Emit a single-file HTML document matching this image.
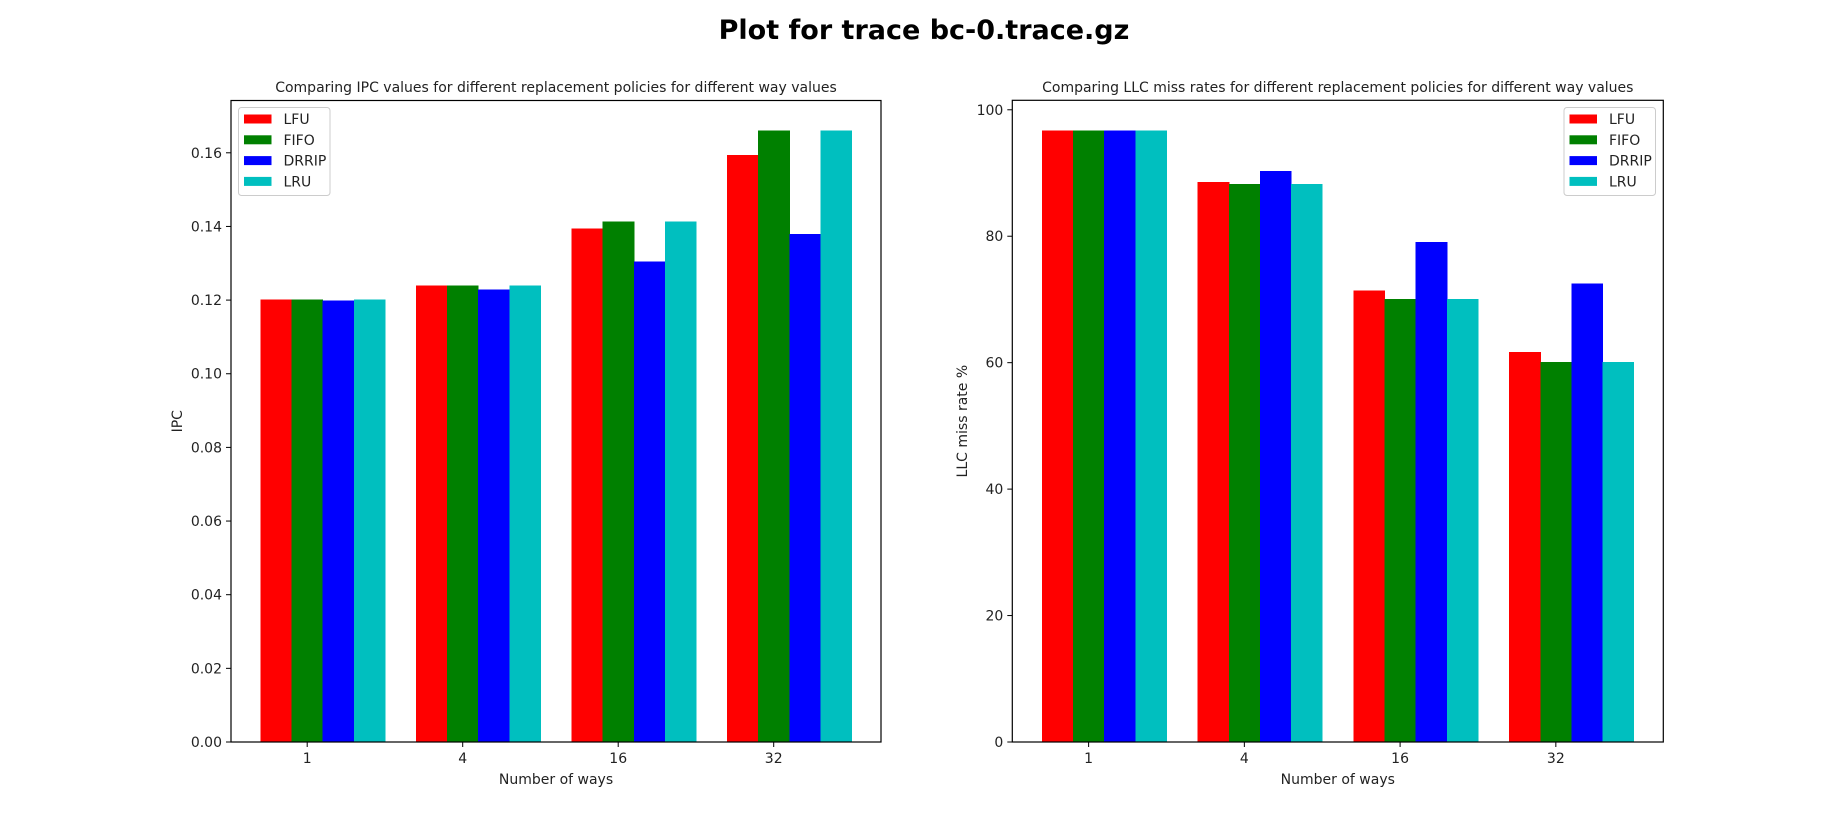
<!DOCTYPE html>
<html><head><meta charset="utf-8"><style>
body{margin:0;background:#fff;}
svg{display:block;font-family:"DejaVu Sans","Liberation Sans",sans-serif;}
</style></head><body>
<svg id="fig" width="1848" height="834">
<text x="924" y="39" text-anchor="middle" font-size="27" font-weight="bold">Plot for trace bc-0.trace.gz</text>
</svg>
<script>
const categories = ["1","4","16","32"];
const seriesNames = ["LFU","FIFO","DRRIP","LRU"];
const seriesColors = ["#ff0000","#008000","#0000ff","#00bfbf"];
const ipcLFU = [0.1202,0.1240,0.1395,0.1594];
const ipcFIFO = [0.1202,0.1240,0.1413,0.1660];
const ipcDRRIP = [0.1199,0.1229,0.1305,0.1379];
const ipcLRU = [0.1202,0.1240,0.1413,0.1660];
const missLFU = [96.7,88.6,71.4,61.7];
const missFIFO = [96.7,88.3,70.1,60.1];
const missDRRIP = [96.7,90.3,79.1,72.5];
const missLRU = [96.7,88.3,70.1,60.1];
const ipcTicks = [0,0.02,0.04,0.06,0.08,0.10,0.12,0.14,0.16];
const ipcTickLabels = ["0.00","0.02","0.04","0.06","0.08","0.10","0.12","0.14","0.16"];
const missTicks = [0,20,40,60,80,100];
const missTickLabels = ["0","20","40","60","80","100"];

const svg = document.getElementById('fig');
const NS = "http://www.w3.org/2000/svg";
function mk(tag, attrs, parent){
  const e = document.createElementNS(NS, tag);
  for (const k in attrs) e.setAttribute(k, attrs[k]);
  (parent||svg).appendChild(e);
  return e;
}

function drawChart(cfg){
  const g = mk('g', {});
  
  
  const L=cfg.left, R=cfg.right, T=cfg.top, B=742;
  const xmin=-0.49, xmax=3.69;
  const xs = v => L + (v - xmin) / (xmax - xmin) * (R - L);
  const ys = v => B - v / cfg.ymax * (B - T);
  const bw = xs(0.2) - xs(0);
  cfg.series.forEach((vals, j) => {
    vals.forEach((v, i) => {
      const cx = xs(i + (j - 1) * 0.2);
      const r = mk('rect', {x: cx - bw/2, y: ys(v), width: bw + 0.5, height: ys(0) - ys(v), fill: seriesColors[j], 'shape-rendering': 'crispEdges'}, g);
      
      
    });
  });
  const frame = mk('rect', {x: L, y: T, width: R - L, height: B - T, fill: 'none', stroke: '#000', 'stroke-width': 1.2}, g);
  
  
  cfg.ticks.forEach((t, k) => {
    const y = ys(t);
    mk('line', {x1: L - 5, x2: L, y1: y, y2: y, stroke: '#000', 'stroke-width': 1}, g);
    const tx = mk('text', {x: L - 9, y: y + 5, 'text-anchor': 'end', 'font-size': 14, fill: '#222'}, g);
    tx.textContent = cfg.tickLabels[k];
    
    
  });
  categories.forEach((c, i) => {
    const x = xs(i);
    mk('line', {x1: x, x2: x, y1: B, y2: B + 5, stroke: '#000', 'stroke-width': 1}, g);
    const tx = mk('text', {x: x, y: B + 21, 'text-anchor': 'middle', 'font-size': 14, fill: '#222'}, g);
    tx.textContent = c;
    
    
  });
  const xl = mk('text', {x: (L + R) / 2, y: 784, 'text-anchor': 'middle', 'font-size': 14, fill: '#222'}, g);
  xl.textContent = 'Number of ways';
  
  
  const yl = mk('text', {x: 0, y: 0, 'text-anchor': 'middle', 'font-size': 14, fill: '#222', transform: 'translate(' + cfg.ylabelX + ',' + ((T + B) / 2) + ') rotate(-90)'}, g);
  yl.textContent = cfg.ylabel;
  
  
  const tl = mk('text', {x: (L + R) / 2, y: 92, 'text-anchor': 'middle', 'font-size': 14, fill: '#222'}, g);
  tl.textContent = cfg.title;
  
  
  const lg = mk('g', {}, g);
  
  
  mk('rect', {x: cfg.legX, y: 107.5, width: 91.5, height: 88, rx: 3, fill: '#fff', 'fill-opacity': 0.8, stroke: '#ccc', 'stroke-width': 1}, lg);
  seriesNames.forEach((n, j) => {
    const cy = 119 + j * 20.8;
    const p = mk('rect', {x: cfg.legX + 5.5, y: cy - 4.5, width: 27.5, height: 9, fill: seriesColors[j]}, lg);
    
    
    const t = mk('text', {x: cfg.legX + 45, y: cy + 5, 'font-size': 14, fill: '#222'}, lg);
    t.textContent = n;
    
    
  });
}

drawChart({name:'ipc-chart', left:231, right:881, top:100.5, ymax:0.1742,
  series:[ipcLFU, ipcFIFO, ipcDRRIP, ipcLRU], ticks:ipcTicks, tickLabels:ipcTickLabels,
  ylabel:'IPC', ylabelX:182, legX:238.5,
  title:'Comparing IPC values for different replacement policies for different way values'});
drawChart({name:'miss-rate-chart', left:1012.3, right:1663.3, top:100.3, ymax:101.5,
  series:[missLFU, missFIFO, missDRRIP, missLRU], ticks:missTicks, tickLabels:missTickLabels,
  ylabel:'LLC miss rate %', ylabelX:967, legX:1564,
  title:'Comparing LLC miss rates for different replacement policies for different way values'});
</script>
</body></html>
